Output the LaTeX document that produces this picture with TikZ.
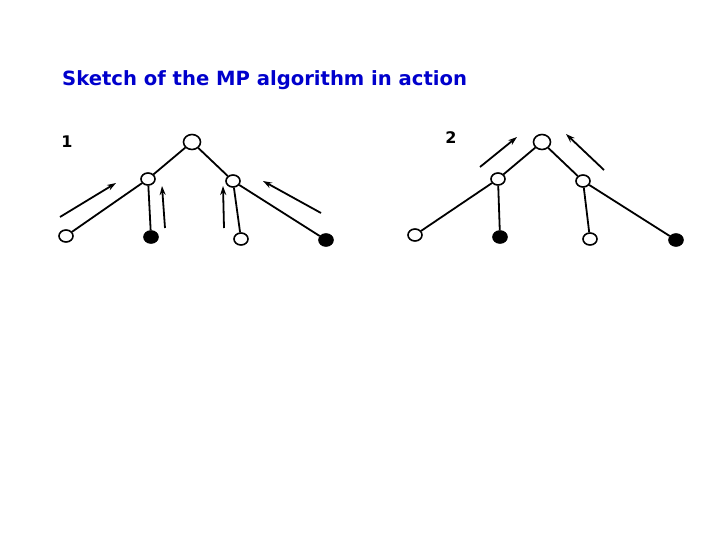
\documentclass[tikz,border=0pt]{standalone}
\usepackage{fontspec}
\setmainfont{DejaVu Sans}
\usetikzlibrary{arrows.meta,shapes.geometric}
\definecolor{titleblue}{RGB}{0,0,204}
\begin{document}
\begin{tikzpicture}[x=1pt,y=-1pt,
  vtx/.style={draw=black,line width=1.6pt,ellipse,inner sep=0pt,minimum width=14pt,minimum height=12pt,fill=white},
  rootv/.style={vtx,minimum width=17pt,minimum height=15pt},
  obs/.style={vtx,fill=black},
  edge/.style={line width=1.8pt},
  msg/.style={line width=1.8pt,-{Stealth[length=9pt,width=6pt]}},
  lbl/.style={font=\bfseries\fontsize{16}{18}\selectfont}]
\useasboundingbox (0,0) rectangle (720,540);
\node[anchor=west,text=titleblue,font=\bfseries\fontsize{19.6}{22}\selectfont,inner sep=0pt] (title) at (62,80) {Sketch of the MP algorithm in action};
\node[lbl] (l1) at (67,142) {1};
\node[lbl] (l2) at (451,138) {2};
% tree 1
\node[rootv] (r1) at (192,142) {};
\node[vtx] (a1) at (148,179) {};
\node[vtx] (b1) at (233,181) {};
\node[vtx] (c1) at (66,236) {};
\node[obs] (d1) at (151,237) {};
\node[vtx] (e1) at (241,239) {};
\node[obs] (f1) at (326,240) {};
\draw[edge] (r1) -- (a1);
\draw[edge] (r1) -- (b1);
\draw[edge] (a1) -- (c1);
\draw[edge] (a1) -- (d1);
\draw[edge] (b1) -- (e1);
\draw[edge] (b1) -- (f1);
\coordinate (m1s) at (60,217); \coordinate (m1e) at (116,183);
\coordinate (m2s) at (165,228); \coordinate (m2e) at (162,186);
\coordinate (m3s) at (224,228); \coordinate (m3e) at (223,186);
\coordinate (m4s) at (321,213); \coordinate (m4e) at (263,181);
\draw[msg] (m1s) -- (m1e);
\draw[msg] (m2s) -- (m2e);
\draw[msg] (m3s) -- (m3e);
\draw[msg] (m4s) -- (m4e);
% tree 2
\node[rootv] (r2) at (542,142) {};
\node[vtx] (a2) at (498,179) {};
\node[vtx] (b2) at (583,181) {};
\node[vtx] (c2) at (415,235) {};
\node[obs] (d2) at (500,237) {};
\node[vtx] (e2) at (590,239) {};
\node[obs] (f2) at (676,240) {};
\draw[edge] (r2) -- (a2);
\draw[edge] (r2) -- (b2);
\draw[edge] (a2) -- (c2);
\draw[edge] (a2) -- (d2);
\draw[edge] (b2) -- (e2);
\draw[edge] (b2) -- (f2);
\coordinate (n1s) at (480,167); \coordinate (n1e) at (517,137);
\coordinate (n2s) at (604,170); \coordinate (n2e) at (566,134);
\draw[msg] (n1s) -- (n1e);
\draw[msg] (n2s) -- (n2e);
\end{tikzpicture}
\end{document}
